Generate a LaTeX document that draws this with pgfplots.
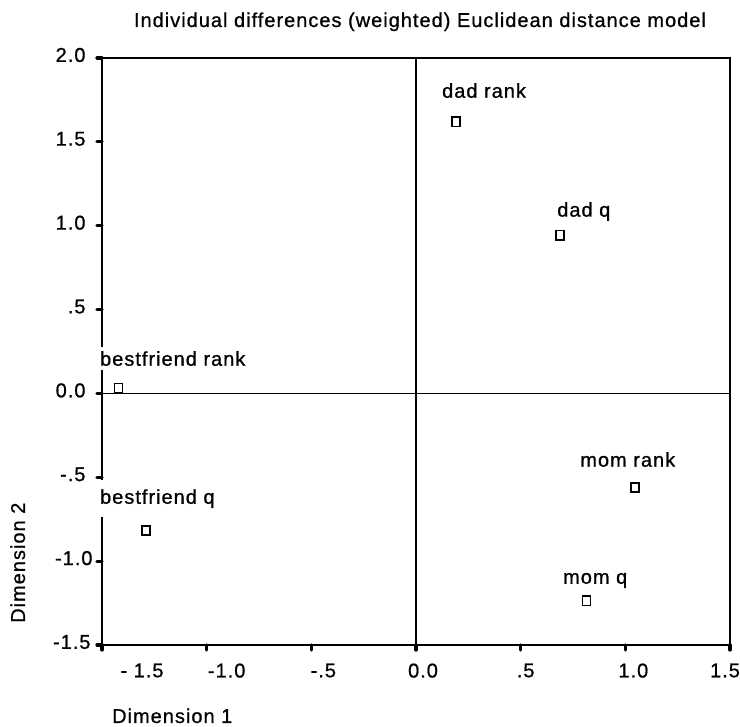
\documentclass[border=0pt]{standalone}
\usepackage{pgfplots}
\pgfplotsset{compat=1.18}
\usepackage{fontspec}
\setmainfont[LetterSpace=5, FakeBold=0.8]{Liberation Sans}
\newcommand{\xl}[2]{\makebox[0pt]{\hspace*{#1}#2}}
\begin{document}
\begin{tikzpicture}[font=\fontsize{20}{24}\selectfont]
\useasboundingbox (-102pt,-82pt) rectangle (638pt,645pt);
\begin{axis}[
  at={(0,0)}, anchor=south west,
  scale only axis, width=628pt, height=587pt,
  xmin=-1.5, xmax=1.5, ymin=-1.5, ymax=2,
  axis line style={line width=2.2pt},
  xtick={-1.5,-1,-0.5,0,0.5,1,1.5},
  ytick={-1.5,-1,-0.5,0,0.5,1,1.5,2},
  xticklabels={\xl{80pt}{- 1.5},\xl{40pt}{-1.0},\xl{24pt}{-.5},\xl{14pt}{0.0},\xl{10pt}{.5},\xl{16pt}{1.0},\xl{-10pt}{1.5}},
  yticklabels={{-1.5\hspace*{-5pt}},{-1.0\hspace*{-7pt}},{-.5},{0.0},{.5},{1.0},{1.5},{2.0}},
  xtick pos=bottom, ytick pos=left,
  tick align=outside,
  major tick length=5pt,
  major tick style={line width=3.2pt, black, line cap=round},
  xticklabel style={yshift=-10pt},
  yticklabel style={xshift=-8pt, yshift=3pt},
  clip=false,
]
\draw[line width=1.8pt] (axis cs:0,-1.5) -- (axis cs:0,2);
\draw[line width=1.8pt] (axis cs:-1.5,0) -- (axis cs:1.5,0);
\addplot[only marks, mark=square, mark size=4pt, mark options={line width=1.6pt, yscale=1.15}] table {
x y
0.19 1.62
0.687 0.943
1.045 -0.562
0.815 -1.236
-1.421 0.032
-1.289 -0.817
};
\node[anchor=base west, inner sep=0pt] at (axis cs:0.124,1.763) {dad rank};
\node[anchor=base west, inner sep=0pt] at (axis cs:0.674,1.054) {dad q};
\node[anchor=base west, inner sep=0pt] at (axis cs:0.784,-0.437) {mom rank};
\node[anchor=base west, inner sep=0pt] at (axis cs:0.702,-1.135) {mom q};
\node[anchor=base west, fill=white, inner xsep=2pt, inner ysep=4pt, xshift=-2pt] at (axis cs:-1.51,0.165) {bestfriend rank};
\node[anchor=base west, fill=white, inner xsep=2pt, inner ysep=9pt, xshift=-2pt] at (axis cs:-1.51,-0.658) {bestfriend q};
\end{axis}
\node[anchor=base, inner sep=0pt] at (318pt,618pt) {Individual differences (weighted) Euclidean distance model};
\node[anchor=base west, inner sep=0pt] at (10pt,-78pt) {Dimension 1};
\node[rotate=90, anchor=base west, inner sep=0pt] at (-77pt,22pt) {Dimension 2};
\end{tikzpicture}
\end{document}
